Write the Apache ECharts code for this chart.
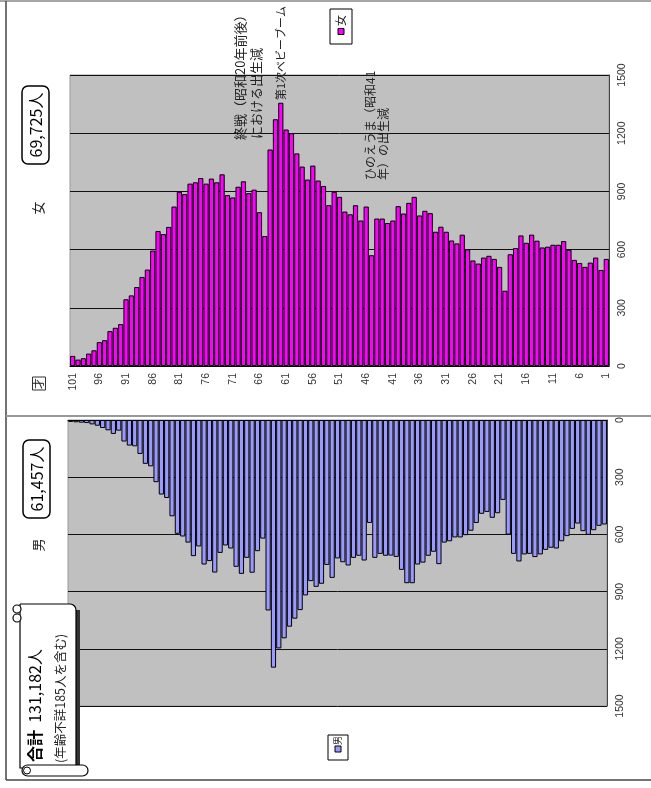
<!DOCTYPE html>
<html><head><meta charset="utf-8">
<script src="https://cdn.jsdelivr.net/npm/echarts@6/dist/echarts.min.js"></script>
<style>html,body{margin:0;padding:0;background:#fff}#c{width:651px;height:788px}</style>
</head><body><div id="c"></div>
<script>
// ages from 101 (left) to 1 (right)
const ages = Array.from({length:101}, (_, i) => String(101 - i));
// female counts, age 101 -> 1
const female = [52,33,40,64,81,123,133,180,197,216,
  344,364,407,459,497,595,696,680,717,822,
  898,886,940,947,969,940,966,947,988,881,
  869,924,952,891,909,793,670,1116,1272,1357,
  1219,1200,1096,1028,961,1033,956,928,829,898,
  872,796,782,829,750,822,571,760,760,737,
  750,824,786,841,872,776,800,788,692,718,
  692,647,632,677,601,544,528,559,568,552,
  511,388,576,608,673,635,677,646,611,615,
  625,625,644,599,547,531,511,533,559,495,
  552];
// male counts, age 101 -> 1
const male = [10,12,14,16,23,30,42,54,73,56,
  113,134,138,178,230,243,326,391,409,505,
  597,611,643,714,663,758,740,800,697,658,
  674,770,807,723,801,688,622,999,1299,1198,
  1145,1084,1042,997,920,845,875,859,760,828,
  726,746,763,723,712,737,540,723,702,712,
  711,718,786,856,856,758,748,712,691,756,
  643,636,616,616,604,581,540,492,482,513,
  489,419,601,702,742,705,702,719,705,681,
  670,674,636,609,571,543,583,602,578,555,
  548];
const valueMin = 0, valueMax = 1500, valueStep = 300;
const femaleTotal = '69,725人';
const maleTotal = '61,457人';
const grandTotal = '131,182人';
const totalNote = '(年齢不詳185人を含む)';
const notes = {
  war1: '終戦（昭和20年前後）', war2: 'における出生減',
  boom: '第1次ベビーブーム',
  hino1: 'ひのえうま（昭和41', hino2: '年）の出生減'
};

const NUM = '"Liberation Sans", Arial, sans-serif';
const JP = '"Noto Sans CJK JP", sans-serif';
const R = Math.PI / 2;

function rtext(x, y, text, size, align, extra) {
  return Object.assign({
    type: 'text', x: x, y: y, rotation: R, z: 100,
    style: { text: text, fontSize: size, fontFamily: JP, fill: '#222',
      align: align || 'center', verticalAlign: 'middle' }
  }, extra || {});
}
function boxLabel(cx, cy, w, h, text, size) {
  return { type: 'group', x: cx, y: cy, rotation: R, z: 100, children: [
    { type: 'rect', shape: { x: -w/2, y: -h/2, width: w, height: h, r: 6 },
      style: { fill: '#fff', stroke: '#000', lineWidth: 1.5 } },
    { type: 'text', x: 0, y: 0, style: { text: text, fontSize: size, fontFamily: JP,
      fill: '#000', align: 'center', verticalAlign: 'middle' } }
  ]};
}
function line(x1, y1, x2, y2, color, w) {
  return { type: 'line', z: 90, shape: { x1: x1, y1: y1, x2: x2, y2: y2 },
    style: { stroke: color, lineWidth: w } };
}

const chart = echarts.init(document.getElementById('c'));
const valueAxisCommon = {
  type: 'value', min: valueMin, max: valueMax, interval: valueStep, position: 'right',
  axisLine: { show: true, lineStyle: { color: '#444' } },
  axisTick: { show: false },
  axisLabel: { rotate: 90, fontSize: 10.5, color: '#333', margin: 8, fontFamily: NUM,
    formatter: v => String(v) },
  splitLine: { lineStyle: { color: '#111', width: 1 } }
};
chart.setOption({
  animation: false,
  backgroundColor: '#fff',
  grid: [
    { left: 70, top: 75, width: 539, height: 291, show: true, backgroundColor: '#c0c0c0', borderColor: '#999', borderWidth: 1 },
    { left: 68, top: 420, width: 539, height: 286, show: true, backgroundColor: '#c0c0c0', borderColor: '#999', borderWidth: 1 }
  ],
  xAxis: [
    { gridIndex: 0, type: 'category', data: ages, position: 'bottom',
      axisLine: { lineStyle: { color: '#000' } }, axisTick: { show: false },
      axisLabel: { interval: 4, rotate: 90, fontSize: 10.5, color: '#333', margin: 7, fontFamily: NUM } },
    { gridIndex: 1, type: 'category', data: ages, position: 'top',
      axisLine: { lineStyle: { color: '#000' } }, axisTick: { show: false }, axisLabel: { show: false } }
  ],
  yAxis: [
    Object.assign({ gridIndex: 0 }, valueAxisCommon),
    Object.assign({ gridIndex: 1, inverse: true }, valueAxisCommon)
  ],
  series: [
    { name: '女', type: 'bar', xAxisIndex: 0, yAxisIndex: 0, data: female, barCategoryGap: '2%',
      itemStyle: { color: '#ff00ff', borderColor: '#000', borderWidth: 1 } },
    { name: '男', type: 'bar', xAxisIndex: 1, yAxisIndex: 1, data: male, barCategoryGap: '2%',
      itemStyle: { color: '#9999ff', borderColor: '#000', borderWidth: 1 } }
  ],
  graphic: [
    // frames
    line(0, 1, 651, 1, '#888', 1.5),
    line(6, 1, 6, 780, '#444', 1.5),
    line(6, 416, 651, 416, '#999', 2),
    line(6, 780, 651, 780, '#444', 1.5),
    // female panel
    rtext(38, 208, '女', 13),
    boxLabel(35.5, 125, 78, 27, femaleTotal, 16),
    { type: 'group', x: 39, y: 383.5, rotation: R, z: 100, children: [
      { type: 'rect', shape: { x: -6.5, y: -6.5, width: 13, height: 13 }, style: { fill: '#fff', stroke: '#333', lineWidth: 1 } },
      { type: 'text', style: { text: '才', fontSize: 11, fontFamily: JP, fill: '#222', align: 'center', verticalAlign: 'middle' } }
    ]},
    { type: 'rect', z: 100, shape: { x: 330, y: 9, width: 22, height: 35 }, style: { fill: '#fff', stroke: '#000', lineWidth: 1 } },
    { type: 'rect', z: 101, shape: { x: 338, y: 28.5, width: 6, height: 6 }, style: { fill: '#ff00ff', stroke: '#000', lineWidth: 1 } },
    rtext(341, 20.5, '女', 11),
    rtext(240, 140, notes.war1, 13, 'left'),
    rtext(256, 139, notes.war2, 13, 'left'),
    rtext(281, 100, notes.boom, 11, 'left'),
    rtext(370, 180, notes.hino1, 12, 'left'),
    rtext(383, 180, notes.hino2, 12, 'left'),
    // male panel
    rtext(38, 545, '男', 13),
    boxLabel(36.5, 479, 78, 27, maleTotal, 16),
    { type: 'rect', z: 100, shape: { x: 328, y: 735, width: 20, height: 25 }, style: { fill: '#fff', stroke: '#000', lineWidth: 1 } },
    { type: 'rect', z: 101, shape: { x: 335, y: 746, width: 6, height: 6 }, style: { fill: '#9999ff', stroke: '#000', lineWidth: 1 } },
    rtext(338, 740.5, '男', 9),
    // scroll with grand total
    { type: 'rect', z: 95, shape: { x: 25, y: 610, width: 55, height: 160 }, style: { fill: '#333' } },
    { type: 'rect', z: 96, shape: { x: 20, y: 604, width: 56, height: 164, r: [0, 6, 0, 0] }, style: { fill: '#fff', stroke: '#000', lineWidth: 1.2 } },
    { type: 'rect', z: 97, shape: { x: 22, y: 765, width: 66, height: 11, r: 5.5 }, style: { fill: '#fff', stroke: '#000', lineWidth: 1.2 } },
    { type: 'circle', z: 98, shape: { cx: 27, cy: 770.5, r: 3.5 }, style: { fill: '#fff', stroke: '#000', lineWidth: 1 } },
    { type: 'circle', z: 98, shape: { cx: 17, cy: 609, r: 4 }, style: { fill: '#fff', stroke: '#000', lineWidth: 1.2 } },
    { type: 'circle', z: 98, shape: { cx: 17, cy: 618, r: 4 }, style: { fill: '#fff', stroke: '#000', lineWidth: 1.2 } },
    { type: 'text', x: 35, y: 762, rotation: R, z: 100,
      style: { text: '{b|合計}  ' + grandTotal, fontSize: 16, fontFamily: JP, fill: '#000', align: 'left', verticalAlign: 'middle',
        rich: { b: { fontSize: 16, fontWeight: 'bold', fontFamily: JP, fill: '#000' } } } },
    rtext(60, 763, totalNote, 12.5, 'left')
  ]
});
</script></body></html>
